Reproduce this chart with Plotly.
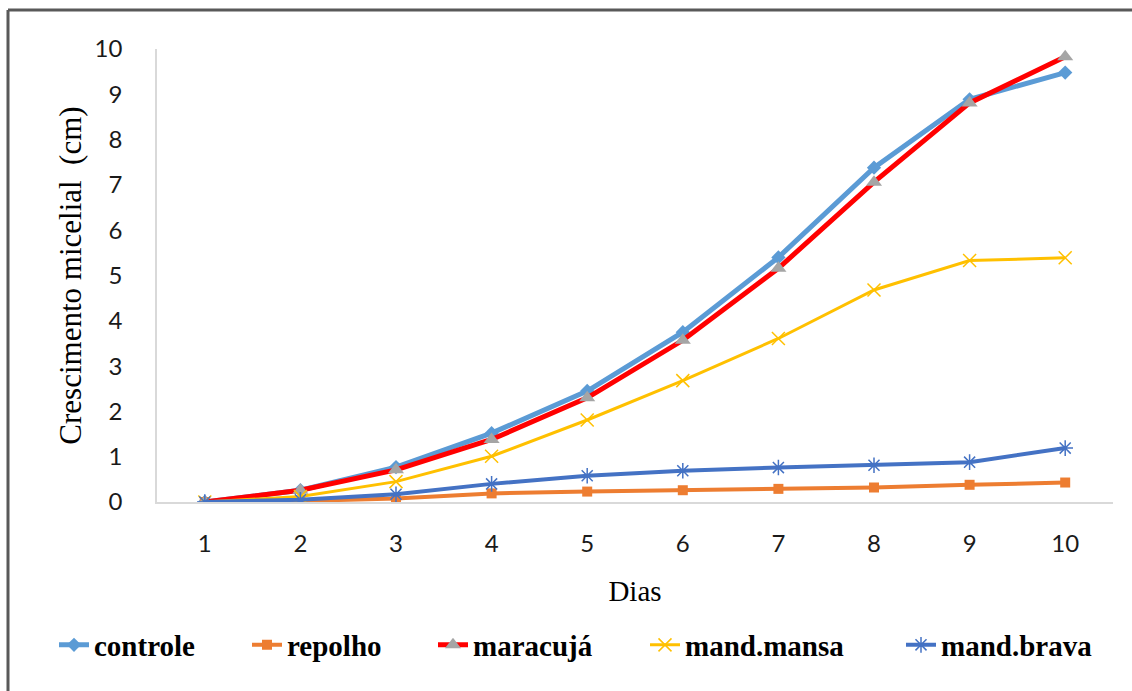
import plotly.graph_objects as go

# Days of observation
dias = [1, 2, 3, 4, 5, 6, 7, 8, 9, 10]

# Mycelial growth (cm) per treatment
controle = [0.0, 0.26, 0.77, 1.52, 2.45, 3.75, 5.40, 7.38, 8.89, 9.48]
repolho = [0.0, 0.02, 0.08, 0.19, 0.23, 0.26, 0.29, 0.32, 0.38, 0.43]
maracuja = [0.0, 0.26, 0.71, 1.38, 2.30, 3.57, 5.16, 7.06, 8.81, 9.83]
mand_mansa = [0.0, 0.12, 0.45, 1.01, 1.81, 2.68, 3.61, 4.68, 5.33, 5.39]
mand_brava = [0.0, 0.05, 0.17, 0.40, 0.58, 0.69, 0.76, 0.81, 0.88, 1.19]

W, H = 1132, 691
L, R, T, B = 157, 19, 49, 189
PW, PH = W - L - R, H - T - B


def px_x(p):
    return (p - L) / PW


def px_y(p):
    return (H - B - p) / PH


series = [
    ("controle", controle, "#5B9BD5", 5, dict(symbol="diamond", size=11, color="#5B9BD5")),
    ("repolho", repolho, "#ED7D31", 4, dict(symbol="square", size=10, color="#ED7D31")),
    ("maracujá", maracuja, "#FF0000", 5, dict(symbol="triangle-up", size=14, color="#A5A5A5")),
    ("mand.mansa", mand_mansa, "#FFC000", 3,
     dict(symbol="x-thin-open", size=13, color="#FFC000", line=dict(width=1.5, color="#FFC000"))),
    ("mand.brava", mand_brava, "#4472C4", 4,
     dict(symbol="asterisk-open", size=13, color="#4472C4", line=dict(width=1.5, color="#4472C4"))),
]

legend_text_x = [95, 288, 474, 686, 942]

fig = go.Figure()
legend_layouts = {}
for i, (name, vals, col, lw, mk) in enumerate(series):
    lg = "legend" if i == 0 else f"legend{i + 1}"
    fig.add_trace(go.Scatter(
        x=dias, y=vals, name=name, mode="lines+markers",
        line=dict(color=col, width=lw), marker=mk, legend=lg,
    ))
    legend_layouts[lg] = dict(
        x=px_x(legend_text_x[i] - 41), xanchor="left",
        y=px_y(645), yanchor="middle",
        font=dict(family="Liberation Serif", size=29, color="#000000", weight="bold"),
        bgcolor="rgba(0,0,0,0)", borderwidth=0,
    )

fig.update_layout(
    width=W, height=H,
    margin=dict(l=L, r=R, t=T, b=B, autoexpand=False),
    paper_bgcolor="white", plot_bgcolor="white",
    showlegend=True,
    xaxis=dict(
        range=[0.5, 10.5], tickmode="array", tickvals=dias, ticktext=[str(d) for d in dias],
        showgrid=False, zeroline=False, showline=True, linecolor="#D9D9D9", linewidth=2,
        ticks="", ticklabelstandoff=19,
        tickfont=dict(family="Lato", size=24, color="#1a1a1a"),
        title=dict(text="Dias", font=dict(family="Liberation Serif", size=29, color="#000000"),
                   standoff=25),
    ),
    yaxis=dict(
        range=[0, 10], tickmode="array", tickvals=list(range(0, 11)),
        showgrid=False, zeroline=False, showline=True, linecolor="#D9D9D9", linewidth=1.5,
        ticks="", ticklabelstandoff=28,
        tickfont=dict(family="Lato", size=24, color="#1a1a1a"),
        title=dict(text="Crescimento micelial  (cm)",
                   font=dict(family="Liberation Serif", size=31, color="#000000"), standoff=4),
    ),
    shapes=[
        dict(type="line", xref="paper", yref="paper", x0=px_x(8), x1=px_x(W + 5),
             y0=px_y(10), y1=px_y(10), line=dict(color="#595959", width=3)),
        dict(type="line", xref="paper", yref="paper", x0=px_x(8), x1=px_x(8),
             y0=px_y(10), y1=px_y(H + 5), line=dict(color="#595959", width=3)),
    ],
    **legend_layouts,
)

fig.write_html("out.html")
